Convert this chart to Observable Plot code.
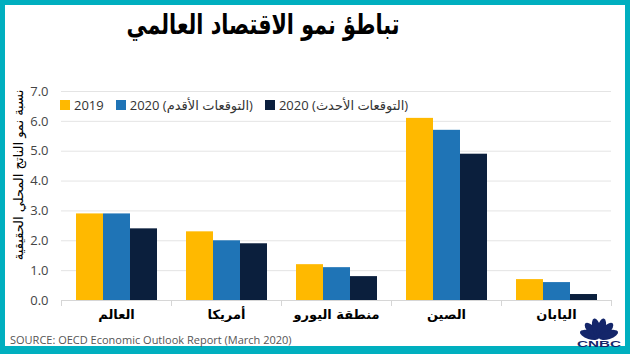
<!DOCTYPE html>
<html><head><meta charset="utf-8">
<script src="https://cdn.jsdelivr.net/npm/d3@7"></script>
<script src="https://cdn.jsdelivr.net/npm/@observablehq/plot@0.6"></script>
<style>
body{margin:0;}
#frame{position:relative;width:630px;height:354px;background:#00AFBF;overflow:hidden;}
#inner{position:absolute;left:5px;top:5px;width:620px;height:341px;background:#fff;}
#title{position:absolute;left:263px;top:8px;white-space:nowrap;font:bold 28px "DejaVu Sans",sans-serif;color:#000;transform-origin:center top;}
#chart{position:absolute;left:0;top:60px;}
#ylabel{position:absolute;left:18px;top:175px;transform:translate(-50%,-50%) rotate(-90deg);white-space:nowrap;font:13px "DejaVu Sans",sans-serif;color:#000;}
#legend{position:absolute;left:60px;top:96px;display:flex;align-items:center;font:13px "Open Sans","DejaVu Sans",sans-serif;color:#333;}
.sw{width:10px;height:10px;margin-right:4px;display:inline-block;}
.item{display:flex;align-items:center;margin-right:12px;}
#source{position:absolute;left:10px;top:332px;font:11px "Liberation Sans Narrow","Open Sans",sans-serif;color:#555;}
#logo{position:absolute;left:575px;top:315px;}
</style></head>
<body>
<div id="frame">
  <div id="inner"></div>
  <div id="title">تباطؤ نمو الاقتصاد العالمي</div>
  <div id="chart"></div>
  <div id="legend"></div>
  <div id="ylabel">نسبة نمو الناتج المحلي الحقيقية</div>
  <div id="source">SOURCE: OECD Economic Outlook Report (March 2020)</div>
  <svg id="logo" width="48" height="32" viewBox="0 0 48 32">
    <g fill="#14266a" transform="translate(24,23)">
      <ellipse cx="0" cy="-10" rx="4.2" ry="10" transform="rotate(-72)"/>
      <ellipse cx="0" cy="-10" rx="4.2" ry="10" transform="rotate(-43)"/>
      <ellipse cx="0" cy="-10" rx="4.2" ry="10" transform="rotate(-14)"/>
      <ellipse cx="0" cy="-10" rx="4.2" ry="10" transform="rotate(14)"/>
      <ellipse cx="0" cy="-10" rx="4.2" ry="10" transform="rotate(43)"/>
      <ellipse cx="0" cy="-10" rx="4.2" ry="10" transform="rotate(72)"/>
    </g>
    <text x="24" y="31.5" text-anchor="middle" font-family="Liberation Sans, Arial, sans-serif" font-weight="bold" font-size="9.5" textLength="44" lengthAdjust="spacingAndGlyphs" fill="#14266a">CNBC</text>
  </svg>
</div>
<script>
const categories = ["العالم", "أمريكا", "منطقة اليورو", "الصين", "اليابان"];
const seriesNames = ["2019", "2020 (التوقعات الأقدم)", "2020 (التوقعات الأحدث)"];
const values2019 = [2.9, 2.3, 1.2, 6.1, 0.7];
const values2020Old = [2.9, 2.0, 1.1, 5.7, 0.6];
const values2020New = [2.4, 1.9, 0.8, 4.9, 0.2];
const seriesColors = ["#FFB900", "#1F74B6", "#0B1F3D"];
const yTicks = [0, 1, 2, 3, 4, 5, 6, 7];

const seriesValues = [values2019, values2020Old, values2020New];
const data = [];
categories.forEach((c, i) => {
  seriesNames.forEach((s, j) => data.push({cat: c, series: s, value: seriesValues[j][i]}));
});

const chart = Plot.plot({
  width: 630, height: 265,
  marginLeft: 60, marginRight: 18, marginTop: 31, marginBottom: 25,
  style: {fontFamily: '"Open Sans","DejaVu Sans",sans-serif', fontSize: "12px", color: "#444", background: "transparent"},
  fx: {domain: categories, padding: 0, label: null},
  x: {domain: seriesNames, paddingInner: 0, paddingOuter: 0.49, axis: null},
  y: {domain: [0, 7], label: null},
  color: {domain: seriesNames, range: seriesColors},
  marks: [
    Plot.gridY({ticks: yTicks, stroke: "#e4e4e4", strokeOpacity: 1}),
    Plot.axisY({ticks: yTicks, tickFormat: d3.format(".1f"), tickSize: 0, tickPadding: 13, label: null, fill: "#444", fontSize: 13}),
    Plot.axisFx({anchor: "bottom", tickSize: 0, tickPadding: 9, label: null, fontWeight: "bold", fontSize: 13, fill: "#000", fontFamily: '"DejaVu Sans",sans-serif'}),
    Plot.barY(data, {fx: "cat", x: "series", y: "value", fill: "series"}),
    Plot.ruleY([0], {stroke: "#d6d6d6"}),
    Plot.frame({anchor: "left", stroke: "#d6d6d6", insetTop: 209, insetBottom: -5}),
    Plot.frame({anchor: "right", stroke: "#d6d6d6", insetTop: 209, insetBottom: -5})
  ]
});
document.getElementById("chart").appendChild(chart);

const legend = document.getElementById("legend");
seriesNames.forEach((s, j) => {
  const item = document.createElement("div");
  item.className = "item";
  const sw = document.createElement("span");
  sw.className = "sw";
  sw.style.background = seriesColors[j];
  const t = document.createElement("span");
  t.textContent = s;
  item.appendChild(sw); item.appendChild(t);
  legend.appendChild(item);
});

// fit title to the reference width (~273px), centred at x≈263
const title = document.getElementById("title");
const w = title.getBoundingClientRect().width;
const s = 273 / w;
title.style.transform = `translateX(-50%) scaleX(${s})`;
</script>
</body></html>
